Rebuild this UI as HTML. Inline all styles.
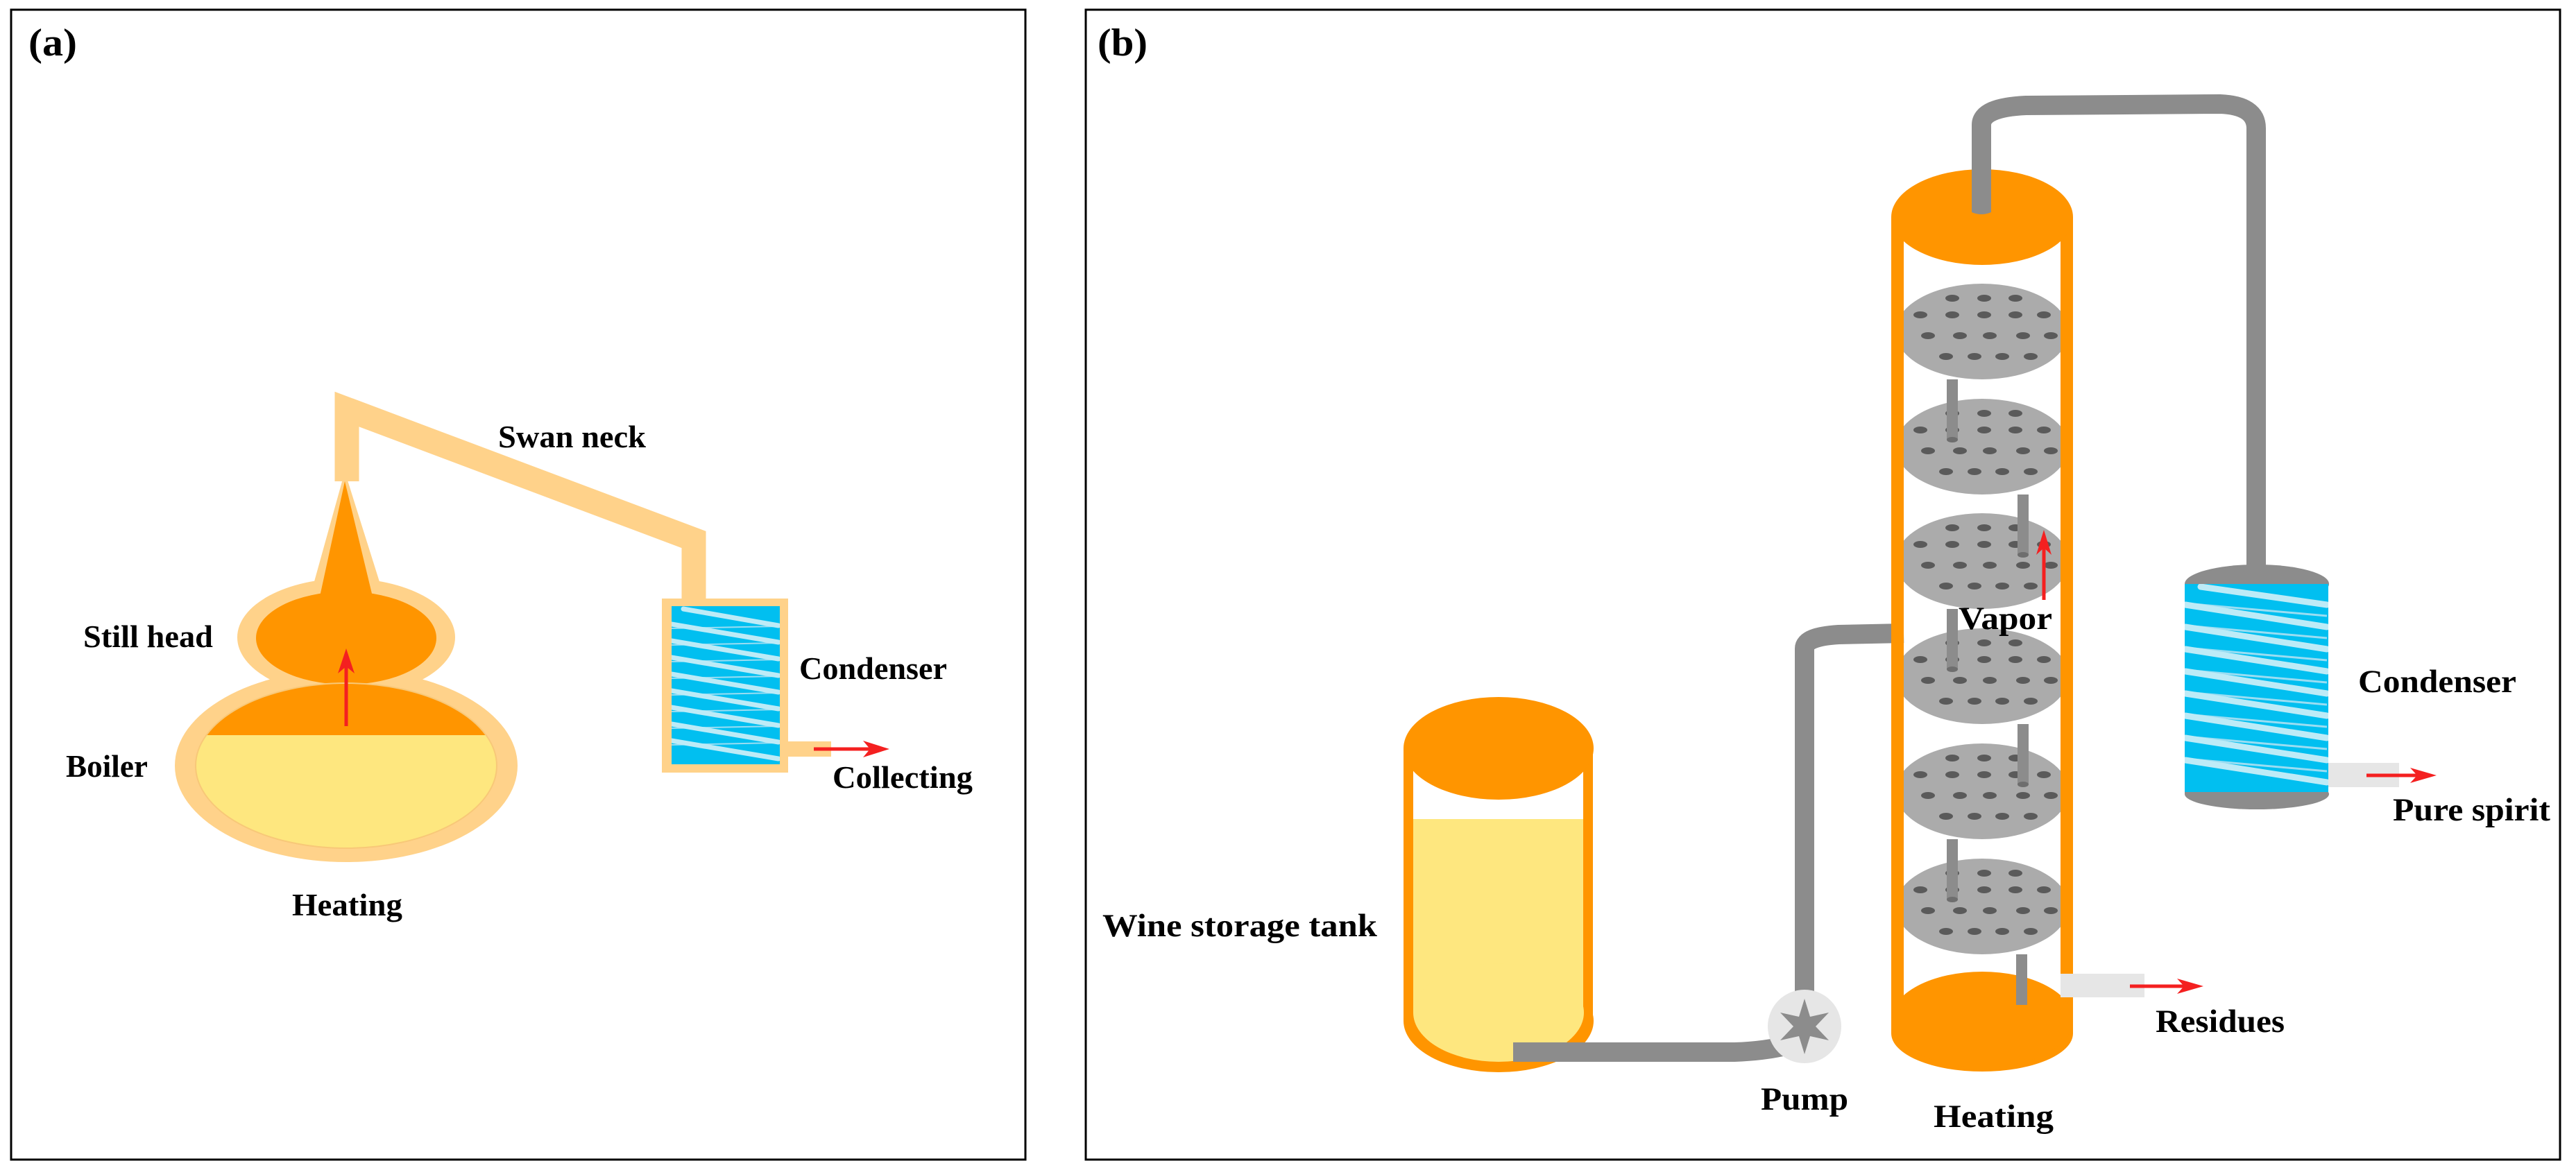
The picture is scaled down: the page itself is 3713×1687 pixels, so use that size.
<!DOCTYPE html>
<html><head><meta charset="utf-8"><style>
html,body{margin:0;padding:0;background:#fff;}
svg{display:block;}
</style></head><body>
<svg width="3713" height="1687" viewBox="0 0 3713 1687" xmlns="http://www.w3.org/2000/svg">
<defs>
<clipPath id="boilIn"><ellipse cx="499" cy="1104" rx="217" ry="119"/></clipPath>
<clipPath id="condA"><rect x="968" y="874" width="156" height="228"/></clipPath>
<clipPath id="condB"><rect x="3149" y="842" width="207" height="300"/></clipPath>
<clipPath id="col"><rect x="2744" y="300" width="226" height="1200"/></clipPath>
</defs>

<rect x="16" y="14" width="1462" height="1658" fill="none" stroke="#000" stroke-width="3"/>
<rect x="1565" y="14" width="2125" height="1658" fill="none" stroke="#000" stroke-width="3"/>

<!-- ===== Panel A ===== -->
<path d="M500,694 V590 L1000,778 V870" fill="none" stroke="#FFD28A" stroke-width="35" stroke-linejoin="miter"/>
<ellipse cx="499" cy="1104" rx="247" ry="139" fill="#FFD28A"/>
<ellipse cx="499" cy="919" rx="157" ry="85" fill="#FFD28A"/>
<path d="M430,1000 Q499,960 568,1000 L568,1010 L430,1010 Z" fill="#FFD28A"/>
<polygon points="497,680 452,842 548,842" fill="#FFD28A"/>
<ellipse cx="499" cy="920" rx="130" ry="67" fill="#FF9500"/>
<polygon points="497,694 461,860 537,860" fill="#FF9500"/>
<g clip-path="url(#boilIn)">
<rect x="270" y="980" width="460" height="260" fill="#FF9500"/>
<rect x="270" y="1060" width="460" height="180" fill="#FEE77F"/>
</g>
<ellipse cx="499" cy="1104" rx="217" ry="119" fill="none" stroke="#F8C878" stroke-width="2"/>
<line x1="499" y1="1047" x2="499" y2="955" stroke="#F42020" stroke-width="5"/>
<path d="M499,935 l-12,36 l12,-10 l12,10 z" fill="#F42020"/>
<rect x="954" y="863" width="182" height="251" fill="#FFD28A"/>
<rect x="968" y="874" width="156" height="228" fill="#01BFF0"/>
<g clip-path="url(#condA)" stroke="#BDEBF7">
<path d="M1122,903 L968,906 M1122,927 L968,930 M1122,951 L968,954 M1122,975 L968,978 M1122,999 L968,1002 M1122,1023 L968,1026 M1122,1047 L968,1050 M1122,1071 L968,1074" stroke-width="2" stroke="#9ADDF2"/>
<path d="M985,878 L1122,902 M968,900 L1122,926 M968,924 L1122,950 M968,948 L1122,974 M968,972 L1122,998 M968,996 L1122,1022 M968,1020 L1122,1046 M968,1044 L1122,1070 M968,1068 L1122,1094" stroke-width="7" stroke-linecap="round"/>
</g>
<rect x="1136" y="1069" width="62" height="22" fill="#FFD28A"/>
<line x1="1173" y1="1080" x2="1260" y2="1080" stroke="#F42020" stroke-width="5"/>
<path d="M1282,1080 l-38,-12 l10,12 l-10,12 z" fill="#F42020"/>

<!-- ===== Panel B ===== -->
<path d="M2181,1517 H2500 Q2560,1515 2600,1500" fill="none" stroke="#8C8C8C" stroke-width="28"/>
<path d="M2601,1440 V935 Q2601,918 2650,915 L2744,913" fill="none" stroke="#8C8C8C" stroke-width="28"/>
<path d="M2856,306 V180 Q2856,155 2920,152 L3200,150 Q3252,152 3252,185 V830" fill="none" stroke="#8C8C8C" stroke-width="28"/>

<rect x="2023" y="1079" width="273" height="393" fill="#FF9500"/>
<ellipse cx="2160" cy="1472" rx="137" ry="74" fill="#FF9500"/>
<rect x="2037" y="1079" width="245" height="102" fill="#fff"/>
<rect x="2037" y="1181" width="245" height="279" fill="#FEE77F"/>
<ellipse cx="2160" cy="1460" rx="123" ry="71" fill="#FEE77F"/>
<ellipse cx="2160" cy="1079" rx="137" ry="74" fill="#FF9500"/>
<path d="M2181,1517 H2300" stroke="#8C8C8C" stroke-width="28"/>

<circle cx="2601" cy="1480" r="53" fill="#E6E6E6"/>
<polygon points="2601,1440 2609,1466 2636,1460 2617,1480 2636,1500 2609,1494 2601,1520 2593,1494 2566,1500 2585,1480 2566,1460 2593,1466" fill="#8C8C8C"/>

<rect x="2726" y="313" width="18" height="1160" fill="#FF9500"/>
<rect x="2970" y="313" width="18" height="1160" fill="#FF9500"/>
<rect x="2726" y="1470" width="262" height="20" fill="#FF9500"/>
<ellipse cx="2857" cy="1490" rx="131" ry="55" fill="#FF9500"/>
<ellipse cx="2857" cy="1470" rx="131" ry="69" fill="#FF9500"/>
<g clip-path="url(#col)">
<g id="tray">
<ellipse cx="2857" cy="478" rx="125" ry="69" fill="#ABABAB"/>
<g fill="#5A5A5A">
<ellipse cx="2814" cy="430" rx="10" ry="5"/><ellipse cx="2860" cy="430" rx="10" ry="5"/><ellipse cx="2905" cy="430" rx="10" ry="5"/>
<ellipse cx="2768" cy="454" rx="10" ry="5"/><ellipse cx="2814" cy="454" rx="10" ry="5"/><ellipse cx="2860" cy="454" rx="10" ry="5"/><ellipse cx="2905" cy="454" rx="10" ry="5"/><ellipse cx="2946" cy="454" rx="10" ry="5"/>
<ellipse cx="2779" cy="484" rx="10" ry="5"/><ellipse cx="2825" cy="484" rx="10" ry="5"/><ellipse cx="2868" cy="484" rx="10" ry="5"/><ellipse cx="2916" cy="484" rx="10" ry="5"/><ellipse cx="2956" cy="484" rx="10" ry="5"/>
<ellipse cx="2805" cy="514" rx="10" ry="5"/><ellipse cx="2846" cy="514" rx="10" ry="5"/><ellipse cx="2886" cy="514" rx="10" ry="5"/><ellipse cx="2927" cy="514" rx="10" ry="5"/>
</g>
</g>
<use href="#tray" y="166"/>
<use href="#tray" y="331"/>
<use href="#tray" y="497"/>
<use href="#tray" y="663"/>
<use href="#tray" y="829"/>
</g>
<g fill="#8C8C8C">
<rect x="2806" y="547" width="16" height="87"/><ellipse cx="2814" cy="634" rx="8" ry="4" fill="#6E6E6E"/>
<rect x="2908" y="713" width="16" height="87"/><ellipse cx="2916" cy="800" rx="8" ry="4" fill="#6E6E6E"/>
<rect x="2806" y="878" width="16" height="87"/><ellipse cx="2814" cy="965" rx="8" ry="4" fill="#6E6E6E"/>
<rect x="2908" y="1044" width="16" height="87"/><ellipse cx="2916" cy="1131" rx="8" ry="4" fill="#6E6E6E"/>
<rect x="2806" y="1210" width="16" height="87"/><ellipse cx="2814" cy="1297" rx="8" ry="4" fill="#6E6E6E"/>
<rect x="2906" y="1376" width="16" height="73"/>
</g>
<ellipse cx="2857" cy="313" rx="131" ry="69" fill="#FF9500"/>
<path d="M2842,180 V306 Q2856,312 2870,306 V180 Z" fill="#8C8C8C"/>

<rect x="2970" y="1404" width="121" height="34" fill="#E6E6E6"/>
<line x1="3070" y1="1422" x2="3160" y2="1422" stroke="#F42020" stroke-width="5"/>
<path d="M3176,1422 l-38,-11 l10,11 l-10,11 z" fill="#F42020"/>

<line x1="2946" y1="865" x2="2946" y2="780" stroke="#F42020" stroke-width="5"/>
<path d="M2946,764 l-11,36 l11,-10 l11,10 z" fill="#F42020"/>

<ellipse cx="3253" cy="842" rx="104" ry="28" fill="#8C8C8C"/>
<rect x="3149" y="1100" width="207" height="45" fill="#8C8C8C"/>
<ellipse cx="3253" cy="1145" rx="104" ry="22" fill="#8C8C8C"/>
<rect x="3149" y="842" width="207" height="300" fill="#01BFF0"/>
<g clip-path="url(#condB)">
<path d="M3354,888 L3150,870 M3354,920 L3150,902 M3354,952 L3150,934 M3354,984 L3150,966 M3354,1016 L3150,998 M3354,1048 L3150,1030 M3354,1080 L3150,1062 M3354,1112 L3150,1094" stroke="#9ADDF2" stroke-width="3"/>
<path d="M3172,846 L3354,872 M3150,872 L3354,904 M3150,904 L3354,936 M3150,936 L3354,968 M3150,968 L3354,1000 M3150,1000 L3354,1032 M3150,1032 L3354,1064 M3150,1064 L3354,1096 M3150,1096 L3354,1128" stroke="#BDEBF7" stroke-width="9" stroke-linecap="round"/>
</g>
<rect x="3356" y="1100" width="102" height="35" fill="#E6E6E6"/>
<line x1="3411" y1="1118" x2="3495" y2="1118" stroke="#F42020" stroke-width="5"/>
<path d="M3512,1118 l-38,-11 l10,11 l-10,11 z" fill="#F42020"/>

<g font-family="'Liberation Serif','DejaVu Serif',serif" font-weight="bold" fill="#000" lengthAdjust="spacingAndGlyphs">
<text x="41" y="80" font-size="56" textLength="70" lengthAdjust="spacingAndGlyphs">(a)</text>
<text x="1582" y="80" font-size="56" textLength="72" lengthAdjust="spacingAndGlyphs">(b)</text>
<text x="718" y="645" font-size="45" textLength="213" lengthAdjust="spacingAndGlyphs">Swan neck</text>
<text x="120" y="933" font-size="45" textLength="187" lengthAdjust="spacingAndGlyphs">Still head</text>
<text x="95" y="1120" font-size="45" textLength="118" lengthAdjust="spacingAndGlyphs">Boiler</text>
<text x="421" y="1320" font-size="45" textLength="159" lengthAdjust="spacingAndGlyphs">Heating</text>
<text x="1152" y="979" font-size="45" textLength="213" lengthAdjust="spacingAndGlyphs">Condenser</text>
<text x="1200" y="1136" font-size="45" textLength="202" lengthAdjust="spacingAndGlyphs">Collecting</text>
<text x="2823" y="907" font-size="47" textLength="135" lengthAdjust="spacingAndGlyphs">Vapor</text>
<text x="3399" y="998" font-size="47" textLength="228" lengthAdjust="spacingAndGlyphs">Condenser</text>
<text x="3449" y="1183" font-size="47" textLength="227" lengthAdjust="spacingAndGlyphs">Pure spirit</text>
<text x="3107" y="1488" font-size="47" textLength="186" lengthAdjust="spacingAndGlyphs">Residues</text>
<text x="2787" y="1625" font-size="47" textLength="173" lengthAdjust="spacingAndGlyphs">Heating</text>
<text x="2538" y="1600" font-size="47" textLength="126" lengthAdjust="spacingAndGlyphs">Pump</text>
<text x="1589" y="1350" font-size="47" textLength="396" lengthAdjust="spacingAndGlyphs">Wine storage tank</text>
</g>
</svg>
</body></html>
